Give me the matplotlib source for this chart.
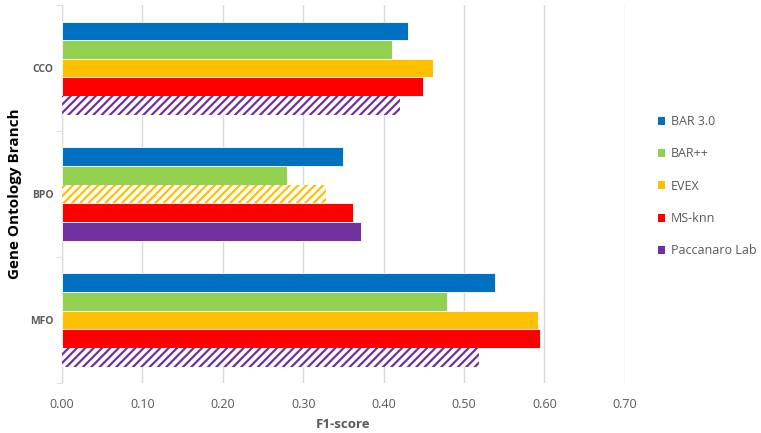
import numpy as np
import matplotlib
matplotlib.use('Agg')
import matplotlib.pyplot as plt
from matplotlib.patches import Patch

plt.rcParams['font.family'] = ['Open Sans', 'DejaVu Sans']
plt.rcParams['hatch.linewidth'] = 1.6

branches = ['MFO', 'BPO', 'CCO']
methods = ['BAR 3.0', 'BAR++', 'EVEX', 'MS-knn', 'Paccanaro Lab']
colors = ['#0070C0', '#92D050', '#FFC000', '#FF0000', '#7030A0']

# F1-score per metodo, in ordine MFO, BPO, CCO
bar30 = [0.539, 0.350, 0.430]
barpp = [0.479, 0.280, 0.410]
evex = [0.592, 0.328, 0.461]
msknn = [0.595, 0.362, 0.449]
paccanaro = [0.519, 0.372, 0.420]
values = [bar30, barpp, evex, msknn, paccanaro]

# barre tratteggiate (metodo, branca)
hatched = {('Paccanaro Lab', 'MFO'), ('EVEX', 'BPO'), ('Paccanaro Lab', 'CCO')}

fig = plt.figure(figsize=(7.61, 4.33), dpi=100)
ax = fig.add_axes([0.0815, 0.1155, 0.7395, 0.8725])

grey = '#595959'
n = len(methods)
h = 0.148
y = np.arange(len(branches))
for i, (m, vals, c) in enumerate(zip(methods, values, colors)):
    pos = y + (n - 1) / 2 * h - i * h
    for j, b in enumerate(branches):
        if (m, b) in hatched:
            ax.barh(pos[j], vals[j], height=h, facecolor='white', edgecolor=c,
                    hatch='////', linewidth=0, zorder=3)
        else:
            ax.barh(pos[j], vals[j], height=h, color=c, edgecolor='white',
                    linewidth=0.6, zorder=3)

ax.set_xlim(0, 0.7)
ax.set_ylim(-0.5, len(branches) - 0.5)
ax.set_xticks(np.arange(0, 0.71, 0.1))
ax.set_xticklabels([f'{v:.2f}' for v in np.arange(0, 0.71, 0.1)], color=grey, fontsize=9)
ax.set_yticks(y)
ax.set_yticklabels(branches, color=grey, fontsize=7.5, fontweight='bold')
ax.set_yticks(np.arange(-0.5, len(branches)), minor=True)
ax.tick_params(axis='y', which='major', length=0, pad=6)
ax.tick_params(axis='y', which='minor', length=4, color='#D9D9D9')
ax.tick_params(axis='x', length=0, pad=11)
ax.grid(axis='x', color='#D9D9D9', linewidth=1, zorder=0)
for s in ['top', 'right', 'bottom']:
    ax.spines[s].set_visible(False)
ax.spines['left'].set_color('#D9D9D9')

ax.set_xlabel('F1-score', color=grey, fontsize=9.5, fontweight='bold', labelpad=5)
ax.set_ylabel('Gene Ontology Branch', color='black', fontsize=11, fontweight='bold', labelpad=6)

handles = [Patch(facecolor=c, label=m) for m, c in zip(methods, colors)]
fig.legend(handles=handles, loc='center left', bbox_to_anchor=(0.858, 0.57),
           frameon=False, fontsize=9, handlelength=0.6, handleheight=0.6,
           labelspacing=1.55, handletextpad=0.45, labelcolor=grey, borderaxespad=0)

fig.savefig('out.png', dpi=100)
